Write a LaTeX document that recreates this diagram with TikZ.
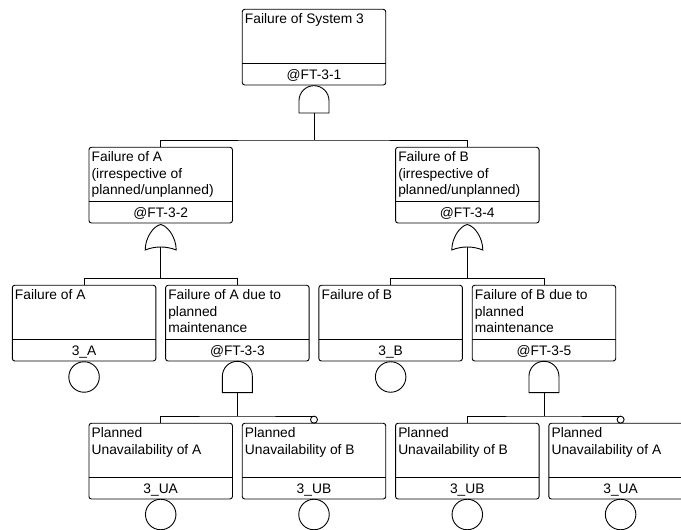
\documentclass[tikz,border=0pt]{standalone}
\usepackage{fontspec}
\setmainfont{Liberation Sans}
\tikzset{
  x=1pt, y=1pt,
  conn/.style={line width=0.9pt, draw=black},
  fbox/.style={draw=black, line width=0.9pt, rounded corners=2.5pt, fill=white,
    minimum width=143.5pt, minimum height=75.7pt, inner sep=0pt, outer sep=0pt},
  ttl/.style={anchor=north west, inner sep=0pt, align=left, font=\fontsize{13.8}{16.3}\selectfont},
  idl/.style={anchor=base, inner sep=0pt, font=\fontsize{13.8}{16.3}\selectfont},
  gatenode/.style={inner sep=0pt, outer sep=0pt, minimum width=30pt},
  evt/.style={circle, draw=black, line width=0.9pt, fill=white, minimum size=30.5pt, inner sep=0pt, outer sep=0pt},
  notc/.style={circle, draw=black, line width=0.9pt, fill=white, minimum size=7pt, inner sep=0pt, outer sep=0pt},
}
\newcommand{\ftbox}[5]{%
  \node[fbox] (#1) at (#2,#3) {};
  \draw[conn] ([yshift=21.7pt]#1.south west) -- ([yshift=21.7pt]#1.south east);
  \node[ttl] (#1t) at ([xshift=2.5pt,yshift=-4.3pt]#1.north west) {\rule{0pt}{10pt}#4};
  \node[idl] (#1i) at ([yshift=5.6pt]#1.south) {#5};
}
\newcommand{\andg}[4]{%
  \node[gatenode, minimum height=#4pt, anchor=north] (#1) at (#2,#3) {};
  \draw[conn] (#1.south west) -- ([yshift=-15pt]#1.north west)
    arc[start angle=180, end angle=0, radius=15pt] -- (#1.south east) -- cycle;
}
\newcommand{\org}[3]{%
  \node[gatenode, minimum width=31pt, minimum height=25.5pt, anchor=north] (#1) at (#2,#3) {};
  \draw[conn] (#1.south west)
    .. controls ([yshift=12pt]#1.south west) and ([xshift=-7.5pt,yshift=-1.5pt]#1.north) .. (#1.north)
    .. controls ([xshift=7.5pt,yshift=-1.5pt]#1.north) and ([yshift=12pt]#1.south east) .. (#1.south east)
    .. controls ([xshift=-10pt,yshift=4pt]#1.south east) and ([xshift=10pt,yshift=4pt]#1.south west) .. (#1.south west) -- cycle;
}
\begin{document}
\begin{tikzpicture}
\useasboundingbox (0,0) rectangle (681,530);
\clip (0,0) rectangle (681,530);

% level 1
\ftbox{T}{314}{482.85}{Failure of System 3}{@FT-3-1}
\andg{G1}{314}{444.3}{27.3}

% level 2
\ftbox{LA}{160.7}{344.85}{Failure of A\\(irrespective of\\planned/unplanned)}{@FT-3-2}
\ftbox{LB}{467.3}{344.85}{Failure of B\\(irrespective of\\planned/unplanned)}{@FT-3-4}
\org{OA}{160.7}{305.5}
\org{OB}{467.3}{305.5}

% level 3
\ftbox{Ta}{84.05}{206.85}{Failure of A}{3\_A}
\ftbox{Tb}{237.35}{206.85}{Failure of A due to\\planned\\maintenance}{@FT-3-3}
\ftbox{Tc}{390.65}{206.85}{Failure of B}{3\_B}
\ftbox{Td}{543.95}{206.85}{Failure of B due to\\planned\\maintenance}{@FT-3-5}
\node[evt] (Ea) at (84.05,153) {};
\node[evt] (Ec) at (390.65,153) {};
\andg{GB}{237.35}{168.7}{31.3}
\andg{GD}{543.95}{168.7}{31.3}

% level 4
\ftbox{Fa}{160.7}{68.85}{Planned\\Unavailability of A}{3\_UA}
\ftbox{Fb}{314}{68.85}{Planned\\Unavailability of B}{3\_UB}
\ftbox{Fc}{467.3}{68.85}{Planned\\Unavailability of B}{3\_UB}
\ftbox{Fd}{620.6}{68.85}{Planned\\Unavailability of A}{3\_UA}
\node[evt] (Eb1) at (160.7,15.5) {};
\node[evt] (Eb2) at (314,15.5) {};
\node[evt] (Eb3) at (467.3,15.5) {};
\node[evt] (Eb4) at (620.6,15.5) {};
\node[notc] (N1) at (314,110.35) {};
\node[notc] (N2) at (620.6,110.35) {};

% connectors
\coordinate (j1) at (314,390);
\draw[conn] (G1.south) -- (j1);
\draw[conn] (LA.north) |- (j1) -| (LB.north);

\coordinate (j2) at (160.7,251.5);
\draw[conn] ([yshift=3pt]OA.south) -- (j2);
\draw[conn] (Ta.north) |- (j2) -| (Tb.north);

\coordinate (j3) at (467.3,251.5);
\draw[conn] ([yshift=3pt]OB.south) -- (j3);
\draw[conn] (Tc.north) |- (j3) -| (Td.north);

\coordinate (j4) at (237.35,114);
\draw[conn] (GB.south) -- (j4);
\draw[conn] (Fa.north) |- (j4) -| (N1.north);

\coordinate (j5) at (543.95,114);
\draw[conn] (GD.south) -- (j5);
\draw[conn] (Fc.north) |- (j5) -| (N2.north);
\end{tikzpicture}
\end{document}
